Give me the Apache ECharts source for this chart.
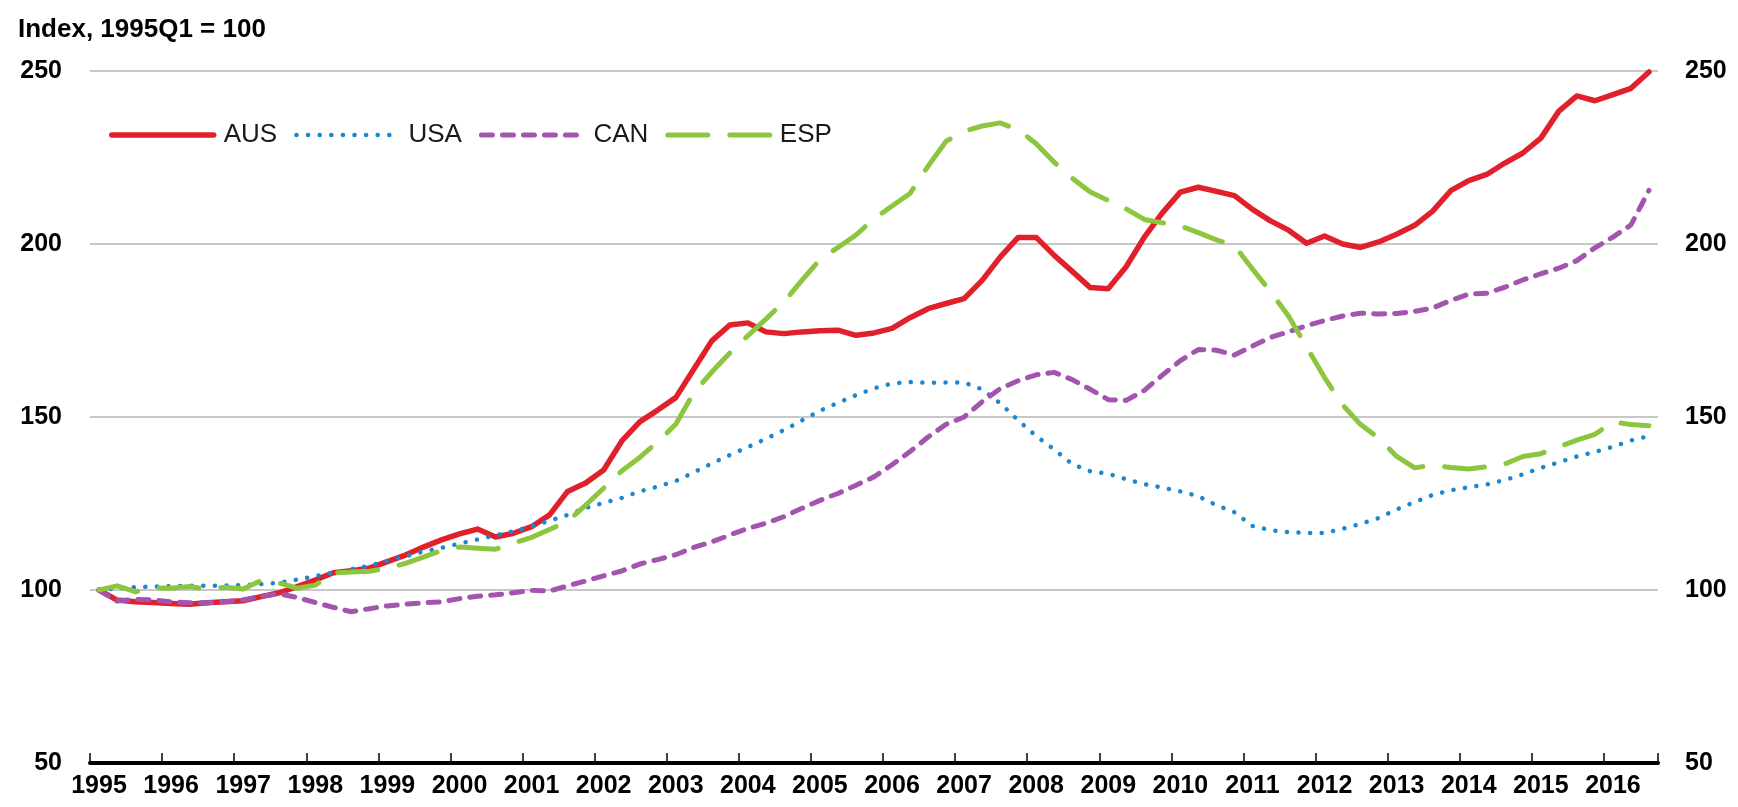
<!DOCTYPE html>
<html>
<head>
<meta charset="utf-8">
<script src="https://cdn.jsdelivr.net/npm/echarts@6/dist/echarts.min.js"></script>
<style>
html,body{margin:0;padding:0;background:#fff;}
#chart{width:1738px;height:807px;}
</style>
</head>
<body>
<div id="chart"></div>
<script>
// Quarterly categories 1995Q1 .. 2016Q3
const years = [1995,1996,1997,1998,1999,2000,2001,2002,2003,2004,2005,2006,2007,2008,2009,2010,2011,2012,2013,2014,2015,2016];
const lastQuarter = 3;
const categories = [];
years.forEach(function(y, i){
  const nq = (i === years.length - 1) ? lastQuarter : 4;
  for (let q = 1; q <= nq; q++) categories.push(y + 'Q' + q);
});

const yTicks = [50, 100, 150, 200, 250];
const titleText = 'Index, 1995Q1 = 100';

const AUS = [100, 97.1, 96.6, 96.4, 96.1, 95.9, 96.3, 96.6, 96.9, 98.1, 99.2, 101, 102.9, 105, 105.6, 106.3, 108.2, 110.1, 112.4, 114.5, 116.2, 117.6, 115.3, 116.4, 118.3, 121.7, 128.5, 130.9, 134.7, 143, 148.6,
  152, 155.6, 163.8, 172, 176.6, 177.2, 174.6, 174.1, 174.6, 174.9, 175.1, 173.6, 174.3, 175.6, 178.7, 181.3, 182.8, 184.2, 189.5, 196.2, 201.9, 201.9, 196.7, 192.1, 187.4, 187.1,
  193.5, 202, 209, 215, 216.4, 215.2, 214, 210, 206.7, 204, 200.2, 202.3, 200, 199, 200.6, 202.8, 205.4, 209.5, 215.4, 218.3, 220.1, 223.4, 226.3, 230.6, 238.4, 242.8, 241.4, 243.2, 245, 249.7];

const USA = [100, 100.4, 100.8, 101, 101.1, 101.2, 101.2, 101.3, 101.4, 101.7, 102.1, 103, 104, 105, 106, 107, 108.4, 109.7, 111.1, 112.2, 113.4, 114.6, 115.8, 117, 118.4, 120, 121.7, 123.7, 125.2, 126.6,
  128.5, 129.9, 131.5, 134, 136.6, 139, 141.3, 143.7, 146.2, 149, 151.8, 154.1, 156.3, 158.3, 159.7, 160.1, 159.9, 160, 160, 158, 154, 149, 144.5, 140.6, 136.4, 134.3, 133.6,
  132, 130.6, 129.6, 128.5, 127.1, 124.5, 122.5, 118.5, 117.3, 116.7, 116.5, 116.5, 117.7, 119.1, 120.8, 123.3, 125.4, 127.5, 128.8, 129.7, 130.5, 131.8, 133.4, 135.3, 136.9, 138.6, 139.9, 141.4, 143.2, 144.5];

const CAN = [100, 96.8, 97.3, 97.1, 96.6, 96.3, 96.3, 96.6, 97.1, 98.2, 98.9, 97.8, 96.4, 95, 93.7, 94.6, 95.4, 95.9, 96.3, 96.6, 97.5, 98.2, 98.6, 99.2, 99.9, 99.7, 101.2, 102.6, 104.1, 105.5,
  107.5, 108.8, 110.2, 112.3, 113.9, 115.9, 117.8, 119.3, 121.2, 123.6, 125.9, 127.9, 130.3, 132.7, 136.2, 140, 144.2, 147.9, 150, 154.4, 158.2, 160.5, 162.2, 162.9, 160.8, 158, 155,
  154.8, 157.7, 162.1, 166.3, 169.5, 169.3, 167.9, 170.5, 173, 174.6, 176.4, 177.9, 179.2, 180, 179.8, 179.9, 180.5, 181.5, 183.7, 185.5, 185.8, 187.5, 189.6, 191.4, 193, 195.2, 198.9, 202, 205.5, 215.5];

const ESP = [100, 101.2, 99.5, 100.6, 100.5, 101, 100.2, 100.8, 100.3, 102.8, 102, 100.5, 101.4, 104.9, 105.2, 105.4, 106.3, 107.7, 109.5, 111.4, 112.4, 112.1, 111.8, 113.6, 115.2, 117.5, 119.8, 124.5, 129.4, 134.4,
  138.3, 142.8, 147.9, 157, 163, 168.5, 173.5, 178.3, 183.3, 189.5, 195.5, 199, 202.6, 207.3, 211, 214.6, 222.5, 229.7, 232.6, 234.1, 235, 233, 229, 223.6, 219, 215, 212.6,
  210.1, 207.1, 206.1, 205.2, 203.3, 201.2, 199.5, 192.8, 186.2, 179.2, 170.3, 161.4, 153.5, 147.8, 143.9, 138.6, 135.3, 136.1, 135.4, 135, 135.6, 136.4, 138.6, 139.4, 141.4, 143.3, 145, 148.6, 147.8, 147.5];

const FONT = "'Liberation Sans', Arial, sans-serif";

const STY = {
  AUS: {color: '#E0202B', width: 5.5, type: 'solid'},
  USA: {color: '#1B87D0', width: 4.5, type: [0.1, 11.5]},
  CAN: {color: '#A354AE', width: 5, type: [11, 10]},
  ESP: {color: '#8CC63E', width: 5, type: [40, 22]}
};

const chart = echarts.init(document.getElementById('chart'), null, {renderer: 'canvas'});

function yAxisDef(pos) {
  return {
    type: 'value',
    position: pos,
    min: yTicks[0],
    max: yTicks[yTicks.length - 1],
    interval: 50,
    axisLine: {show: false},
    axisTick: {show: false},
    axisLabel: {
      show: true,
      margin: pos === 'left' ? 28 : 27,
      color: '#000',
      fontFamily: FONT,
      fontWeight: 'bold',
      fontSize: 25
    },
    splitLine: {show: pos === 'left', lineStyle: {color: '#C8C8C8', width: 2}}
  };
}

const everyYear = function(idx){ return idx % 4 === 0; };

function legendItem(name) {
  const s = STY[name];
  return {
    name: name,
    itemStyle: {opacity: 0},
    lineStyle: {color: s.color, width: s.width, type: s.type, cap: 'round', opacity: 1}
  };
}

function lineSeries(name, data, z) {
  const s = STY[name];
  return {
    name: name, type: 'line', data: data, symbol: 'none', showSymbol: false, z: z,
    itemStyle: {color: s.color},
    lineStyle: {color: s.color, width: s.width, type: s.type, cap: 'round', join: 'round'}
  };
}

chart.setOption({
  animation: false,
  backgroundColor: '#fff',
  title: {
    text: titleText,
    left: 13,
    top: 12,
    textStyle: {fontFamily: FONT, fontWeight: 'bold', fontSize: 26, color: '#000'}
  },
  legend: {
    left: 104,
    top: 117,
    itemWidth: 102,
    itemHeight: 14,
    itemGap: 17,
    textStyle: {fontFamily: FONT, fontSize: 26, color: '#1a1a1a', padding: [0, 0, 0, 5]},
    data: ['AUS', 'USA', 'CAN', 'ESP'].map(legendItem)
  },
  grid: {left: 90, right: 80, top: 71, bottom: 44, containLabel: false},
  xAxis: {
    type: 'category',
    data: categories,
    boundaryGap: true,
    axisLine: {show: true, onZero: false, lineStyle: {color: '#000', width: 4}},
    axisTick: {show: true, inside: true, length: 10, interval: everyYear, lineStyle: {color: '#000', width: 1.5}},
    axisLabel: {
      interval: everyYear,
      showMinLabel: true,
      margin: 11,
      color: '#000',
      fontFamily: FONT,
      fontWeight: 'bold',
      fontSize: 25,
      formatter: function(v){ return v.slice(0, 4); }
    },
    splitLine: {show: false}
  },
  yAxis: [yAxisDef('left'), yAxisDef('right')],
  series: [
    lineSeries('AUS', AUS, 3),
    lineSeries('USA', USA, 4),
    lineSeries('CAN', CAN, 5),
    lineSeries('ESP', ESP, 6)
  ]
});
</script>
</body>
</html>
